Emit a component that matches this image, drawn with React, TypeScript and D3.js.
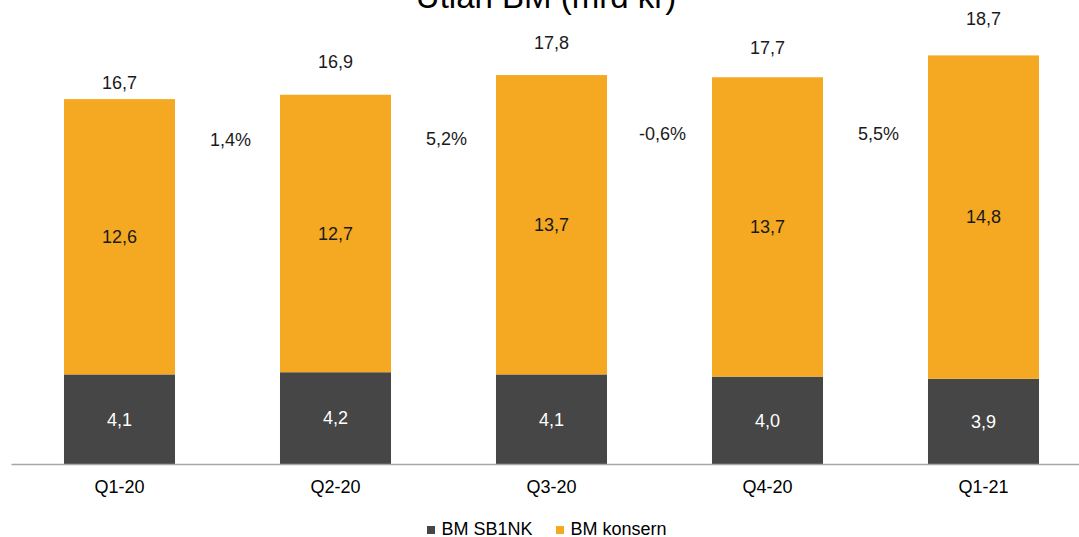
import React from "react";
import * as d3 from "d3";

// data
const quarters = ["Q1-20", "Q2-20", "Q3-20", "Q4-20", "Q1-21"];
const bmSb1nk = [4.1, 4.2, 4.1, 4.0, 3.9];
const bmKonsern = [12.6, 12.7, 13.7, 13.7, 14.8];
const totals = [16.7, 16.9, 17.8, 17.7, 18.7];
// hidden series the total labels hang on
const totalLabelLevel = [17.18, 18.14, 19.01, 18.78, 20.08];
const growth = ["1,4%", "5,2%", "-0,6%", "5,5%"];
// hidden series the growth labels hang on
const growthLevel = [14.55, 14.6, 14.84, 14.84];

const seriesKeys = ["sb1nk", "konsern"];
const seriesNames = ["BM SB1NK", "BM konsern"];
const colors = { sb1nk: "#464646", konsern: "#F5A922" };

const fmt = (v: number) => v.toFixed(1).replace(".", ",");

const App = () => {
  const width = 1079;
  const height = 537;
  const font = "'Liberation Sans', Arial, sans-serif";

  const rows = quarters.map((q, i) => ({
    quarter: q,
    sb1nk: bmSb1nk[i],
    konsern: bmKonsern[i],
  }));

  const xScale = d3
    .scaleBand()
    .domain(quarters)
    .range([11.5, 1091.5])
    .paddingInner(0.486)
    .paddingOuter(0.243);

  const yScale = d3.scaleLinear().domain([0, 20]).range([464, 27]);

  const stacked = d3.stack<any>().keys(seriesKeys)(rows);
  const bw = xScale.bandwidth();
  const step = xScale.step();

  return (
    <div style={{ position: "absolute", left: 0, top: 0 }}>
      <svg width={width} height={height} style={{ display: "block" }}>
        <rect width={width} height={height} fill="#ffffff" />

        {/* title, cut at the top like in the slide */}
        <text
          x={546}
          y={8}
          textAnchor="middle"
          fontFamily={font}
          fontSize={33}
          fill="#000"
        >
          Utlån BM (mrd kr)
        </text>

        {/* stacked bars */}
        {stacked.map((layer) => (
          <g key={layer.key} fill={colors[layer.key]}>
            {layer.map((d, i) => (
              <rect
                key={i}
                x={xScale(d.data.quarter)}
                y={yScale(d[1])}
                width={bw}
                height={yScale(d[0]) - yScale(d[1])}
              />
            ))}
          </g>
        ))}

        {/* labels inside bars */}
        {stacked.map((layer) =>
          layer.map((d, i) => (
            <text
              key={layer.key + i}
              x={xScale(d.data.quarter) + bw / 2}
              y={(yScale(d[0]) + yScale(d[1])) / 2}
              dy="0.35em"
              textAnchor="middle"
              fontFamily={font}
              fontSize={18}
              fill={layer.key === "sb1nk" ? "#ffffff" : "#1a1a1a"}
            >
              {fmt(d[1] - d[0])}
            </text>
          ))
        )}

        {/* totals */}
        {totals.map((t, i) => (
          <text
            key={"t" + i}
            x={xScale(quarters[i]) + bw / 2}
            y={yScale(totalLabelLevel[i])}
            textAnchor="middle"
            fontFamily={font}
            fontSize={18}
            fill="#1a1a1a"
          >
            {fmt(t)}
          </text>
        ))}

        {/* growth between quarters */}
        {growth.map((g, i) => (
          <text
            key={"g" + i}
            x={xScale(quarters[i]) + bw + (step - bw) / 2 + 3}
            y={yScale(growthLevel[i])}
            textAnchor="middle"
            fontFamily={font}
            fontSize={18}
            fill="#1a1a1a"
          >
            {g}
          </text>
        ))}

        {/* x axis */}
        <line
          x1={11.5}
          x2={1091.5}
          y1={yScale(0) + 0.5}
          y2={yScale(0) + 0.5}
          stroke="#a6a6a6"
          strokeWidth={1.5}
        />
        {quarters.map((q) => (
          <text
            key={q}
            x={xScale(q) + bw / 2}
            y={492.5}
            textAnchor="middle"
            fontFamily={font}
            fontSize={18}
            fill="#000"
          >
            {q}
          </text>
        ))}

        {/* legend */}
        {seriesKeys.map((k, i) => {
          const lx = i === 0 ? 427 : 556;
          return (
            <g key={k}>
              <rect x={lx} y={526} width={8} height={8} fill={colors[k]} />
              <text
                x={lx + 14.5}
                y={535}
                fontFamily={font}
                fontSize={18}
                fill="#000"
              >
                {seriesNames[i]}
              </text>
            </g>
          );
        })}
      </svg>
    </div>
  );
};

export default App;
